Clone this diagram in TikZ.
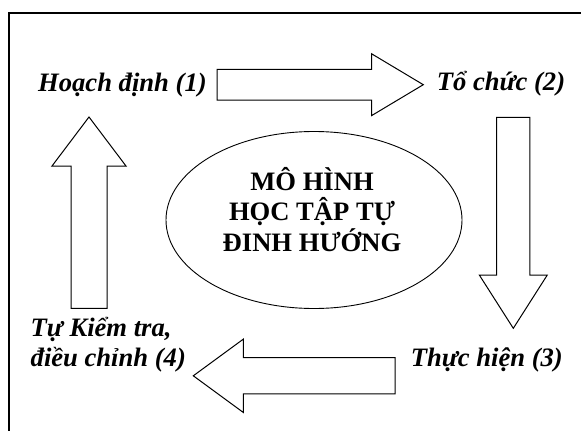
\documentclass[tikz,border=0pt]{standalone}
\usepackage{fontspec}
\setmainfont{Liberation Serif}
\usetikzlibrary{shapes.geometric}

\tikzset{
  stage/.style={inner sep=0pt, font=\fontsize{26.6}{30}\selectfont\bfseries\itshape, anchor=base west},
  title/.style={inner sep=0pt, align=center, anchor=base, font=\fontsize{26.6}{30.8}\selectfont\bfseries},
  hub/.style={draw, line width=0.9pt, ellipse, minimum width=296pt, minimum height=177pt, inner sep=0pt},
  arrowline/.style={draw, line width=1pt, line join=miter, fill=white},
  frameline/.style={line width=1.1pt},
  % block arrow: length / shaft width / head width / head length, drawn along +x
  pics/blockarrow/.style args={#1/#2/#3/#4}{code={
    \path[arrowline] (0,-#2/2) -- ({#1-#4},-#2/2) -- ({#1-#4},-#3/2) -- (#1,0)
      -- ({#1-#4},#3/2) -- ({#1-#4},#2/2) -- (0,#2/2) -- cycle;
  }}
}

\begin{document}
\begin{tikzpicture}[x=1pt, y=-1pt]
  \useasboundingbox (0,0) rectangle (581,431);
  \clip (0,0) rectangle (581,431);

  % outer frame (only the top and left edges fall inside the page)
  \draw[frameline] (9,440) -- (9,13) -- (590,13);

  % central model
  \node[hub] (model) at (314,220) {};
  \node[title] (modeltext) at (312,251.7) {MÔ HÌNH\\HỌC TẬP TỰ\\ĐINH HƯỚNG};

  % block arrows between the stages
  \pic at (217,84.7) {blockarrow={206.3/30.7/61.7/51.6}};
  \pic[rotate=-90] at (513.3,117.3) {blockarrow={211/33.3/68/53.3}};
  \pic[rotate=180] at (395,375.8) {blockarrow={201.7/36.3/73.3/50}};
  \pic[rotate=90] at (89,308.3) {blockarrow={191.3/36/74/49}};

  % stages of the cycle
  \node[stage] (plan) at (38,91) {Hoạch định (1)};
  \node[stage] (org)  at (436.7,90.5) {Tổ chức (2)};
  \node[stage] (do)   at (410.7,366.7) {Thực hiện (3)};
  \node[stage, align=left] (check) at (30.5,366.7) {Tự Kiểm tra,\\điều chỉnh (4)};
\end{tikzpicture}
\end{document}
